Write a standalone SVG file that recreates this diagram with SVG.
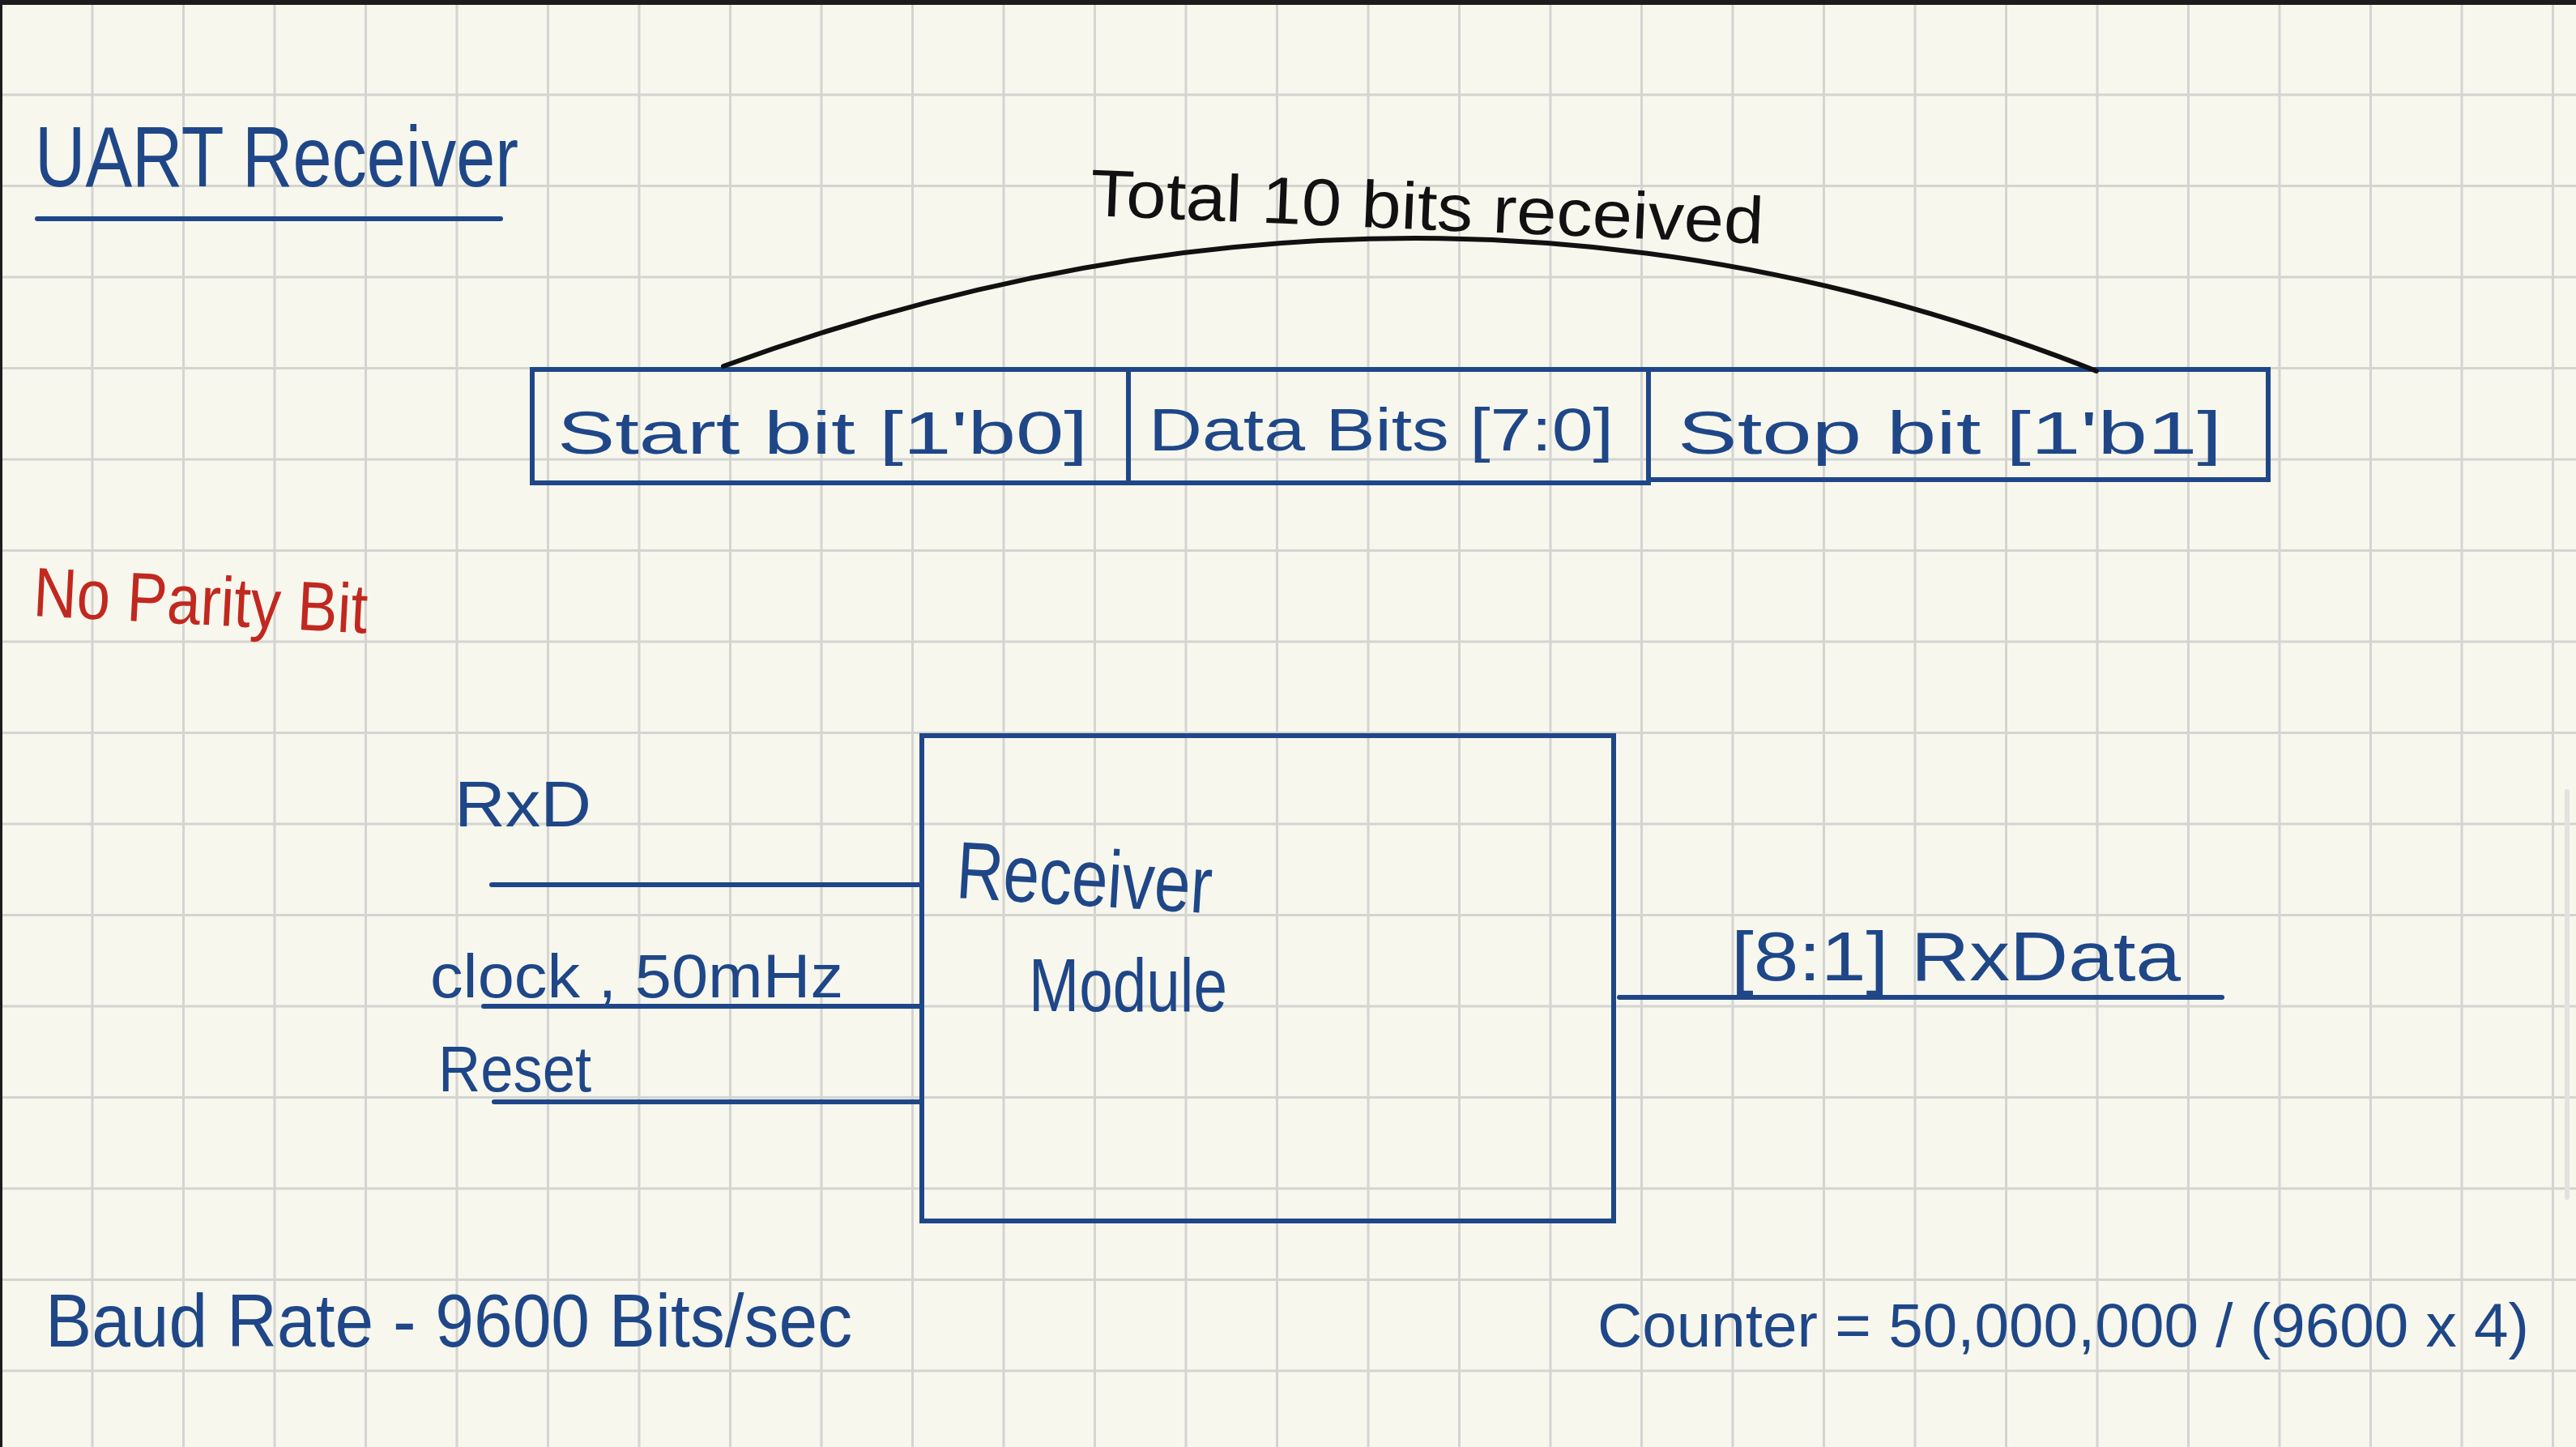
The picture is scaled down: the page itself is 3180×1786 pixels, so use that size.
<svg xmlns="http://www.w3.org/2000/svg" width="3180" height="1786" viewBox="0 0 3180 1786">
<style>
.ink{fill:#1F4788;font-family:"Liberation Sans","DejaVu Sans",sans-serif;}
.red{fill:#C1281F;font-family:"Liberation Sans","DejaVu Sans",sans-serif;}
.blk{fill:#111111;font-family:"Liberation Sans","DejaVu Sans",sans-serif;}
.box{fill:none;stroke:#1F4788;stroke-width:6;}
.wire{fill:none;stroke:#1F4788;stroke-width:6;stroke-linecap:round;}
.grid{fill:none;stroke:#D4D4D1;stroke-width:3;}
</style>
<rect x="0" y="0" width="3180" height="1786" fill="#F7F7EE"/>
<g id="grid">
<path class="grid" d="M114 0V1786M226.5 0V1786M339 0V1786M451.5 0V1786M564 0V1786M676.5 0V1786M789 0V1786M901.5 0V1786M1014 0V1786M1126.5 0V1786M1239 0V1786M1351.5 0V1786M1464 0V1786M1576.5 0V1786M1689 0V1786M1801.5 0V1786M1914 0V1786M2026.5 0V1786M2139 0V1786M2251.5 0V1786M2364 0V1786M2476.5 0V1786M2589 0V1786M2701.5 0V1786M2814 0V1786M2926.5 0V1786M3039 0V1786M3151.5 0V1786"/>
<path class="grid" d="M0 117H3180M0 229.5H3180M0 342H3180M0 454.5H3180M0 567H3180M0 679.5H3180M0 792H3180M0 904.5H3180M0 1017H3180M0 1129.5H3180M0 1242H3180M0 1354.5H3180M0 1467H3180M0 1579.5H3180M0 1692H3180"/>
</g>
<rect x="0" y="0" width="3180" height="6" fill="#1C1C1C"/>
<rect x="0" y="0" width="3" height="1786" fill="#1C1C1C"/>
<rect x="3166" y="974" width="6" height="507" rx="3" fill="#E2E2DF"/>

<g id="title">
<text class="ink" x="43" y="230" font-size="105" textLength="597" lengthAdjust="spacingAndGlyphs">UART Receiver</text>
<line class="wire" x1="46" y1="270" x2="618" y2="270" stroke-width="7"/>
</g>

<g id="total-label">
<text class="blk" x="1345" y="266" font-size="82" textLength="832" lengthAdjust="spacingAndGlyphs" transform="rotate(2.4 1345 266)">Total  10 bits received</text>
</g>

<g id="frame">
<g id="start-bit">
<rect class="box" x="657" y="456" width="736" height="140"/>
<text class="ink" x="688" y="560" font-size="74" textLength="655" lengthAdjust="spacingAndGlyphs">Start bit [1'b0]</text>
</g>
<g id="data-bits">
<rect class="box" x="1393" y="456" width="642" height="140"/>
<text class="ink" x="1418" y="556" font-size="74" textLength="574" lengthAdjust="spacingAndGlyphs">Data Bits [7:0]</text>
</g>
<g id="stop-bit">
<rect class="box" x="2035" y="456" width="765" height="136"/>
<text class="ink" x="2071" y="560" font-size="74" textLength="672" lengthAdjust="spacingAndGlyphs">Stop bit [1'b1]</text>
</g>
</g>

<g id="no-parity">
<text class="red" x="40" y="760" font-size="86" textLength="413" lengthAdjust="spacingAndGlyphs" transform="rotate(3 40 760)">No Parity Bit</text>
</g>

<g id="receiver-module">
<rect class="box" x="1138" y="908" width="854" height="599"/>
<text class="ink" x="1179" y="1108" font-size="100" textLength="316" lengthAdjust="spacingAndGlyphs" transform="rotate(3.5 1179 1108)">Receiver</text>
<text class="ink" x="1270" y="1248" font-size="92" textLength="245" lengthAdjust="spacingAndGlyphs">Module</text>
</g>

<g id="label-rxd"><text class="ink" x="561" y="1020" font-size="80" textLength="169" lengthAdjust="spacingAndGlyphs">RxD</text></g>
<g id="label-clock"><text class="ink" x="531" y="1231" font-size="76" textLength="510" lengthAdjust="spacingAndGlyphs">clock , 50mHz</text></g>
<g id="label-reset"><text class="ink" x="541" y="1347" font-size="80" textLength="189" lengthAdjust="spacingAndGlyphs">Reset</text></g>
<g id="label-rxdata"><text class="ink" x="2137" y="1210" font-size="86" textLength="555" lengthAdjust="spacingAndGlyphs">[8:1] RxData</text></g>

<g id="baud-rate"><text class="ink" x="56" y="1662" font-size="92" textLength="996" lengthAdjust="spacingAndGlyphs">Baud Rate - 9600 Bits/sec</text></g>
<g id="counter"><text class="ink" x="1972" y="1662" font-size="76" textLength="1150" lengthAdjust="spacingAndGlyphs">Counter = 50,000,000 / (9600 x 4)</text></g>

<g id="connectors">
<path d="M893 452 Q1768 133 2588 458" fill="none" stroke="#111111" stroke-width="6" stroke-linecap="round"/>
<line class="wire" x1="607" y1="1092" x2="1138" y2="1092"/>
<line class="wire" x1="597" y1="1242" x2="1138" y2="1242"/>
<line class="wire" x1="610" y1="1360" x2="1138" y2="1360"/>
<line class="wire" x1="1999" y1="1231" x2="2743" y2="1231"/>
</g>
</svg>
